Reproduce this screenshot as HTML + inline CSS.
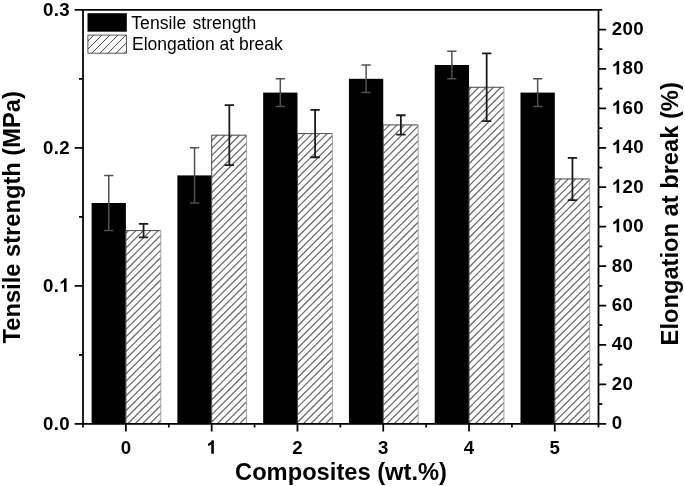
<!DOCTYPE html>
<html><head><meta charset="utf-8"><title>Chart</title>
<style>
html,body{margin:0;padding:0;background:#fff;}
body{width:685px;height:486px;overflow:hidden;font-family:"Liberation Sans",sans-serif;}
svg{display:block;filter:blur(0.6px);}
</style></head><body>
<svg width="685" height="486" viewBox="0 0 685 486">
<rect width="685" height="486" fill="#fff"/>
<rect x="91.60" y="203.00" width="34.30" height="220.80" fill="#000"/>
<rect x="125.90" y="230.60" width="34.90" height="193.20" fill="#fff"/>
<path d="M125.9 233.2L128.5 230.6M125.9 240.6L135.9 230.6M125.9 248.0L143.3 230.6M125.9 255.4L150.7 230.6M125.9 262.8L158.1 230.6M125.9 270.2L160.8 235.3M125.9 277.6L160.8 242.7M125.9 285.0L160.8 250.1M125.9 292.4L160.8 257.5M125.9 299.8L160.8 264.9M125.9 307.2L160.8 272.3M125.9 314.6L160.8 279.7M125.9 322.0L160.8 287.1M125.9 329.4L160.8 294.5M125.9 336.8L160.8 301.9M125.9 344.2L160.8 309.3M125.9 351.6L160.8 316.7M125.9 359.0L160.8 324.1M125.9 366.4L160.8 331.5M125.9 373.8L160.8 338.9M125.9 381.2L160.8 346.3M125.9 388.6L160.8 353.7M125.9 396.0L160.8 361.1M125.9 403.4L160.8 368.5M125.9 410.8L160.8 375.9M125.9 418.2L160.8 383.3M127.7 423.8L160.8 390.7M135.1 423.8L160.8 398.1M142.5 423.8L160.8 405.5M149.9 423.8L160.8 412.9M157.3 423.8L160.8 420.3" stroke="#6a6a6a" stroke-width="1.25" fill="none"/>
<path d="M125.90 423.80V230.60H160.80" stroke="#484848" stroke-width="1" fill="none"/>
<path d="M160.80 230.60V423.80" stroke="#9a9a9a" stroke-width="0.9" fill="none"/>
<rect x="177.38" y="175.40" width="34.30" height="248.40" fill="#000"/>
<rect x="211.68" y="135.18" width="34.90" height="288.62" fill="#fff"/>
<path d="M211.7 140.8L217.3 135.2M211.7 148.2L224.7 135.2M211.7 155.6L232.1 135.2M211.7 163.0L239.5 135.2M211.7 170.4L246.6 135.5M211.7 177.8L246.6 142.9M211.7 185.2L246.6 150.3M211.7 192.6L246.6 157.7M211.7 200.0L246.6 165.1M211.7 207.4L246.6 172.5M211.7 214.8L246.6 179.9M211.7 222.2L246.6 187.3M211.7 229.6L246.6 194.7M211.7 237.0L246.6 202.1M211.7 244.4L246.6 209.5M211.7 251.8L246.6 216.9M211.7 259.2L246.6 224.3M211.7 266.6L246.6 231.7M211.7 274.0L246.6 239.1M211.7 281.4L246.6 246.5M211.7 288.8L246.6 253.9M211.7 296.2L246.6 261.3M211.7 303.6L246.6 268.7M211.7 311.0L246.6 276.1M211.7 318.4L246.6 283.5M211.7 325.8L246.6 290.9M211.7 333.2L246.6 298.3M211.7 340.6L246.6 305.7M211.7 348.0L246.6 313.1M211.7 355.4L246.6 320.5M211.7 362.8L246.6 327.9M211.7 370.2L246.6 335.3M211.7 377.6L246.6 342.7M211.7 385.0L246.6 350.1M211.7 392.4L246.6 357.5M211.7 399.8L246.6 364.9M211.7 407.2L246.6 372.3M211.7 414.6L246.6 379.7M211.7 422.0L246.6 387.1M217.3 423.8L246.6 394.5M224.7 423.8L246.6 401.9M232.1 423.8L246.6 409.3M239.5 423.8L246.6 416.7" stroke="#6a6a6a" stroke-width="1.25" fill="none"/>
<path d="M211.68 423.80V135.18H246.58" stroke="#484848" stroke-width="1" fill="none"/>
<path d="M246.58 135.18V423.80" stroke="#9a9a9a" stroke-width="0.9" fill="none"/>
<rect x="263.16" y="92.60" width="34.30" height="331.20" fill="#000"/>
<rect x="297.46" y="133.61" width="34.90" height="290.19" fill="#fff"/>
<path d="M297.5 133.6L297.5 133.6M297.5 141.0L304.9 133.6M297.5 148.4L312.3 133.6M297.5 155.8L319.7 133.6M297.5 163.2L327.1 133.6M297.5 170.6L332.4 135.7M297.5 178.0L332.4 143.1M297.5 185.4L332.4 150.5M297.5 192.8L332.4 157.9M297.5 200.2L332.4 165.3M297.5 207.6L332.4 172.7M297.5 215.0L332.4 180.1M297.5 222.4L332.4 187.5M297.5 229.8L332.4 194.9M297.5 237.2L332.4 202.3M297.5 244.6L332.4 209.7M297.5 252.0L332.4 217.1M297.5 259.4L332.4 224.5M297.5 266.8L332.4 231.9M297.5 274.2L332.4 239.3M297.5 281.6L332.4 246.7M297.5 289.0L332.4 254.1M297.5 296.4L332.4 261.5M297.5 303.8L332.4 268.9M297.5 311.2L332.4 276.3M297.5 318.6L332.4 283.7M297.5 326.0L332.4 291.1M297.5 333.4L332.4 298.5M297.5 340.8L332.4 305.9M297.5 348.2L332.4 313.3M297.5 355.6L332.4 320.7M297.5 363.0L332.4 328.1M297.5 370.4L332.4 335.5M297.5 377.8L332.4 342.9M297.5 385.2L332.4 350.3M297.5 392.6L332.4 357.7M297.5 400.0L332.4 365.1M297.5 407.4L332.4 372.5M297.5 414.8L332.4 379.9M297.5 422.2L332.4 387.3M303.3 423.8L332.4 394.7M310.7 423.8L332.4 402.1M318.1 423.8L332.4 409.5M325.5 423.8L332.4 416.9" stroke="#6a6a6a" stroke-width="1.25" fill="none"/>
<path d="M297.46 423.80V133.61H332.36" stroke="#484848" stroke-width="1" fill="none"/>
<path d="M332.36 133.61V423.80" stroke="#9a9a9a" stroke-width="0.9" fill="none"/>
<rect x="348.94" y="78.80" width="34.30" height="345.00" fill="#000"/>
<rect x="383.24" y="124.93" width="34.90" height="298.87" fill="#fff"/>
<path d="M383.2 131.4L389.7 124.9M383.2 138.8L397.1 124.9M383.2 146.2L404.5 124.9M383.2 153.6L411.9 124.9M383.2 161.0L418.1 126.1M383.2 168.4L418.1 133.5M383.2 175.8L418.1 140.9M383.2 183.2L418.1 148.3M383.2 190.6L418.1 155.7M383.2 198.0L418.1 163.1M383.2 205.4L418.1 170.5M383.2 212.8L418.1 177.9M383.2 220.2L418.1 185.3M383.2 227.6L418.1 192.7M383.2 235.0L418.1 200.1M383.2 242.4L418.1 207.5M383.2 249.8L418.1 214.9M383.2 257.2L418.1 222.3M383.2 264.6L418.1 229.7M383.2 272.0L418.1 237.1M383.2 279.4L418.1 244.5M383.2 286.8L418.1 251.9M383.2 294.2L418.1 259.3M383.2 301.6L418.1 266.7M383.2 309.0L418.1 274.1M383.2 316.4L418.1 281.5M383.2 323.8L418.1 288.9M383.2 331.2L418.1 296.3M383.2 338.6L418.1 303.7M383.2 346.0L418.1 311.1M383.2 353.4L418.1 318.5M383.2 360.8L418.1 325.9M383.2 368.2L418.1 333.3M383.2 375.6L418.1 340.7M383.2 383.0L418.1 348.1M383.2 390.4L418.1 355.5M383.2 397.8L418.1 362.9M383.2 405.2L418.1 370.3M383.2 412.6L418.1 377.7M383.2 420.0L418.1 385.1M386.8 423.8L418.1 392.5M394.2 423.8L418.1 399.9M401.6 423.8L418.1 407.3M409.0 423.8L418.1 414.7M416.4 423.8L418.1 422.1" stroke="#6a6a6a" stroke-width="1.25" fill="none"/>
<path d="M383.24 423.80V124.93H418.14" stroke="#484848" stroke-width="1" fill="none"/>
<path d="M418.14 124.93V423.80" stroke="#9a9a9a" stroke-width="0.9" fill="none"/>
<rect x="434.72" y="65.00" width="34.30" height="358.80" fill="#000"/>
<rect x="469.02" y="87.28" width="34.90" height="336.52" fill="#fff"/>
<path d="M469.0 89.7L471.4 87.3M469.0 97.1L478.8 87.3M469.0 104.5L486.2 87.3M469.0 111.9L493.6 87.3M469.0 119.3L501.0 87.3M469.0 126.7L503.9 91.8M469.0 134.1L503.9 99.2M469.0 141.5L503.9 106.6M469.0 148.9L503.9 114.0M469.0 156.3L503.9 121.4M469.0 163.7L503.9 128.8M469.0 171.1L503.9 136.2M469.0 178.5L503.9 143.6M469.0 185.9L503.9 151.0M469.0 193.3L503.9 158.4M469.0 200.7L503.9 165.8M469.0 208.1L503.9 173.2M469.0 215.5L503.9 180.6M469.0 222.9L503.9 188.0M469.0 230.3L503.9 195.4M469.0 237.7L503.9 202.8M469.0 245.1L503.9 210.2M469.0 252.5L503.9 217.6M469.0 259.9L503.9 225.0M469.0 267.3L503.9 232.4M469.0 274.7L503.9 239.8M469.0 282.1L503.9 247.2M469.0 289.5L503.9 254.6M469.0 296.9L503.9 262.0M469.0 304.3L503.9 269.4M469.0 311.7L503.9 276.8M469.0 319.1L503.9 284.2M469.0 326.5L503.9 291.6M469.0 333.9L503.9 299.0M469.0 341.3L503.9 306.4M469.0 348.7L503.9 313.8M469.0 356.1L503.9 321.2M469.0 363.5L503.9 328.6M469.0 370.9L503.9 336.0M469.0 378.3L503.9 343.4M469.0 385.7L503.9 350.8M469.0 393.1L503.9 358.2M469.0 400.5L503.9 365.6M469.0 407.9L503.9 373.0M469.0 415.3L503.9 380.4M469.0 422.7L503.9 387.8M475.3 423.8L503.9 395.2M482.7 423.8L503.9 402.6M490.1 423.8L503.9 410.0M497.5 423.8L503.9 417.4" stroke="#6a6a6a" stroke-width="1.25" fill="none"/>
<path d="M469.02 423.80V87.28H503.92" stroke="#484848" stroke-width="1" fill="none"/>
<path d="M503.92 87.28V423.80" stroke="#9a9a9a" stroke-width="0.9" fill="none"/>
<rect x="520.50" y="92.60" width="34.30" height="331.20" fill="#000"/>
<rect x="554.80" y="178.95" width="34.90" height="244.85" fill="#fff"/>
<path d="M554.8 185.1L561.0 178.9M554.8 192.5L568.4 178.9M554.8 199.9L575.8 178.9M554.8 207.3L583.2 178.9M554.8 214.7L589.7 179.8M554.8 222.1L589.7 187.2M554.8 229.5L589.7 194.6M554.8 236.9L589.7 202.0M554.8 244.3L589.7 209.4M554.8 251.7L589.7 216.8M554.8 259.1L589.7 224.2M554.8 266.5L589.7 231.6M554.8 273.9L589.7 239.0M554.8 281.3L589.7 246.4M554.8 288.7L589.7 253.8M554.8 296.1L589.7 261.2M554.8 303.5L589.7 268.6M554.8 310.9L589.7 276.0M554.8 318.3L589.7 283.4M554.8 325.7L589.7 290.8M554.8 333.1L589.7 298.2M554.8 340.5L589.7 305.6M554.8 347.9L589.7 313.0M554.8 355.3L589.7 320.4M554.8 362.7L589.7 327.8M554.8 370.1L589.7 335.2M554.8 377.5L589.7 342.6M554.8 384.9L589.7 350.0M554.8 392.3L589.7 357.4M554.8 399.7L589.7 364.8M554.8 407.1L589.7 372.2M554.8 414.5L589.7 379.6M554.8 421.9L589.7 387.0M560.3 423.8L589.7 394.4M567.7 423.8L589.7 401.8M575.1 423.8L589.7 409.2M582.5 423.8L589.7 416.6" stroke="#6a6a6a" stroke-width="1.25" fill="none"/>
<path d="M554.80 423.80V178.95H589.70" stroke="#484848" stroke-width="1" fill="none"/>
<path d="M589.70 178.95V423.80" stroke="#9a9a9a" stroke-width="0.9" fill="none"/>
<path d="M108.75 175.40V230.60M104.15 175.40h9.2M104.15 230.60h9.2" stroke="#505050" stroke-width="1.5" fill="none"/>
<path d="M143.55 223.90V237.30M138.85 223.90h9.4M138.85 237.30h9.4" stroke="#1c1c1c" stroke-width="1.8" fill="none"/>
<path d="M194.53 147.80V203.00M189.93 147.80h9.2M189.93 203.00h9.2" stroke="#505050" stroke-width="1.5" fill="none"/>
<path d="M229.33 105.22V165.15M224.63 105.22h9.4M224.63 165.15h9.4" stroke="#1c1c1c" stroke-width="1.8" fill="none"/>
<path d="M280.31 78.80V106.40M275.71 78.80h9.2M275.71 106.40h9.2" stroke="#505050" stroke-width="1.5" fill="none"/>
<path d="M315.11 109.95V157.26M310.41 109.95h9.4M310.41 157.26h9.4" stroke="#1c1c1c" stroke-width="1.8" fill="none"/>
<path d="M366.09 65.00V92.60M361.49 65.00h9.2M361.49 92.60h9.2" stroke="#505050" stroke-width="1.5" fill="none"/>
<path d="M400.89 115.27V134.59M396.19 115.27h9.4M396.19 134.59h9.4" stroke="#1c1c1c" stroke-width="1.8" fill="none"/>
<path d="M451.87 51.20V78.80M447.27 51.20h9.2M447.27 78.80h9.2" stroke="#505050" stroke-width="1.5" fill="none"/>
<path d="M486.67 53.37V121.19M481.97 53.37h9.4M481.97 121.19h9.4" stroke="#1c1c1c" stroke-width="1.8" fill="none"/>
<path d="M537.65 78.80V106.40M533.05 78.80h9.2M533.05 106.40h9.2" stroke="#505050" stroke-width="1.5" fill="none"/>
<path d="M572.45 157.85V200.04M567.75 157.85h9.4M567.75 200.04h9.4" stroke="#1c1c1c" stroke-width="1.8" fill="none"/>
<path d="M74.70 9.8H602.20M74.70 423.8H606.20M83.0 8.925V427.40000000000003M598.5 8.925V427.40000000000003M74.70 285.80H83.0M74.70 147.80H83.0M79.00 354.80H83.0M79.00 216.80H83.0M79.00 78.80H83.0M598.5 384.37H606.20M598.5 344.94H606.20M598.5 305.51H606.20M598.5 266.09H606.20M598.5 226.66H606.20M598.5 187.23H606.20M598.5 147.80H606.20M598.5 108.37H606.20M598.5 68.94H606.20M598.5 29.51H606.20M598.5 404.09H602.30M598.5 364.66H602.30M598.5 325.23H602.30M598.5 285.80H602.30M598.5 246.37H602.30M598.5 206.94H602.30M598.5 167.51H602.30M598.5 128.09H602.30M598.5 88.66H602.30M598.5 49.23H602.30M125.90 423.8V431.40M168.79 423.8V427.40M211.68 423.8V431.40M254.57 423.8V427.40M297.46 423.8V431.40M340.35 423.8V427.40M383.24 423.8V431.40M426.13 423.8V427.40M469.02 423.8V431.40M511.91 423.8V427.40M554.80 423.8V431.40" stroke="#000" stroke-width="1.75" fill="none"/>
<rect x="87.5" y="13.2" width="39.3" height="18.5" fill="#000"/>
<path d="M87.9 41.0L93.8 35.1M87.9 49.1L101.9 35.1M91.8 53.2L109.9 35.1M99.9 53.2L118.0 35.1M107.9 53.2L126.0 35.1M116.0 53.2L126.4 42.8M124.1 53.2L126.4 50.9" stroke="#3a3a3a" stroke-width="0.95" fill="none"/>
<rect x="87.9" y="35.1" width="38.5" height="18.1" fill="none" stroke="#444" stroke-width="0.9"/>
<g font-family="'Liberation Sans', sans-serif" fill="#000">
<g font-size="17.6">
<text x="131.3" y="29.2" word-spacing="1.2" letter-spacing="0.03">Tensile strength</text>
<text x="132.0" y="50.3" font-size="17.5">Elongation at break</text>
</g>
<g font-size="18.7" font-weight="bold" letter-spacing="0.3">
<text x="69.9" y="429.75" text-anchor="end">0.0</text>
<path transform="translate(59.20 291.75) scale(0.00913 -0.00913)" d="M806 0L525 0L525 1059Q371 915 162 846L162 1101Q272 1137 401 1237.5Q530 1338 578 1472L806 1472Z" fill="#000"/>
<text x="59.20" y="291.75" text-anchor="end">0.</text>
<text x="69.9" y="153.75" text-anchor="end">0.2</text>
<text x="69.9" y="15.75" text-anchor="end">0.3</text>
<text x="611.8" y="429.30">0</text>
<text x="611.8" y="389.87">20</text>
<text x="611.8" y="350.44">40</text>
<text x="611.8" y="311.01">60</text>
<text x="611.8" y="271.59">80</text>
<path transform="translate(611.80 232.16) scale(0.00913 -0.00913)" d="M806 0L525 0L525 1059Q371 915 162 846L162 1101Q272 1137 401 1237.5Q530 1338 578 1472L806 1472Z" fill="#000"/>
<text x="622.50" y="232.16">00</text>
<path transform="translate(611.80 192.73) scale(0.00913 -0.00913)" d="M806 0L525 0L525 1059Q371 915 162 846L162 1101Q272 1137 401 1237.5Q530 1338 578 1472L806 1472Z" fill="#000"/>
<text x="622.50" y="192.73">20</text>
<path transform="translate(611.80 153.30) scale(0.00913 -0.00913)" d="M806 0L525 0L525 1059Q371 915 162 846L162 1101Q272 1137 401 1237.5Q530 1338 578 1472L806 1472Z" fill="#000"/>
<text x="622.50" y="153.30">40</text>
<path transform="translate(611.80 113.87) scale(0.00913 -0.00913)" d="M806 0L525 0L525 1059Q371 915 162 846L162 1101Q272 1137 401 1237.5Q530 1338 578 1472L806 1472Z" fill="#000"/>
<text x="622.50" y="113.87">60</text>
<path transform="translate(611.80 74.44) scale(0.00913 -0.00913)" d="M806 0L525 0L525 1059Q371 915 162 846L162 1101Q272 1137 401 1237.5Q530 1338 578 1472L806 1472Z" fill="#000"/>
<text x="622.50" y="74.44">80</text>
<text x="611.8" y="35.01">200</text>
<text x="126.05" y="453.8" text-anchor="middle">0</text>
<path transform="translate(206.48 453.80) scale(0.00913 -0.00913)" d="M806 0L525 0L525 1059Q371 915 162 846L162 1101Q272 1137 401 1237.5Q530 1338 578 1472L806 1472Z" fill="#000"/>
<text x="297.61" y="453.8" text-anchor="middle">2</text>
<text x="383.39" y="453.8" text-anchor="middle">3</text>
<text x="469.17" y="453.8" text-anchor="middle">4</text>
<text x="554.95" y="453.8" text-anchor="middle">5</text>
</g>
<g font-size="23.7" font-weight="bold">
<text x="341" y="480.0" text-anchor="middle">Composites (wt.%)</text>
<text transform="translate(20.1 217.3) rotate(-90)" text-anchor="middle">Tensile strength (MPa)</text>
<text transform="translate(677.6 213.8) rotate(-90)" text-anchor="middle">Elongation at break (%)</text>
</g></g>
</svg>
</body></html>
